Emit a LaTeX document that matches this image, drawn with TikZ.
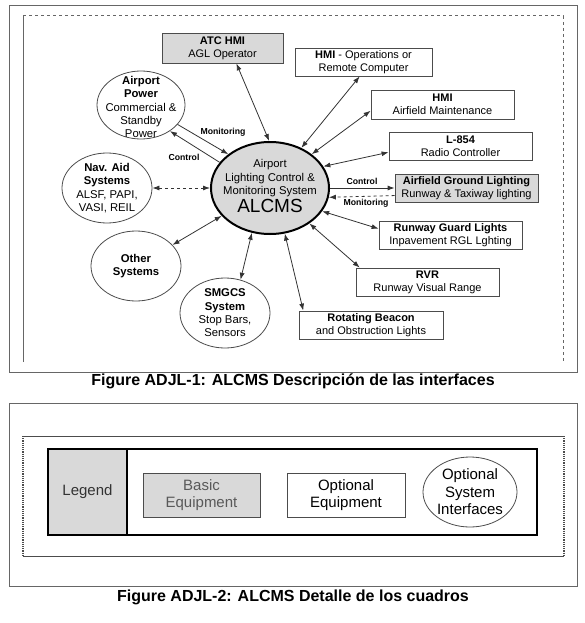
\documentclass[tikz,border=0pt]{standalone}
\usepackage{fontspec}
\setmainfont{Liberation Sans}
\usetikzlibrary{arrows.meta,shapes.geometric}

\begin{document}
\begin{tikzpicture}[x=1pt, y=-1pt,
  every node/.style={font=\fontsize{11}{13}\selectfont, text=black},
  box/.style={draw=black!70, line width=0.8pt, rectangle, inner sep=1pt,
    align=center, minimum width=143, minimum height=28},
  graybox/.style={box, fill=black!15},
  sysell/.style={draw=black!70, line width=0.8pt, ellipse, inner sep=0pt,
    minimum width=90, minimum height=70},
  systext/.style={align=center, inner sep=0pt, font=\fontsize{11.3}{13.3}\selectfont},
  core/.style={draw=black, line width=2pt, ellipse, fill=black!15,
    inner sep=0pt, minimum width=118, minimum height=92},
  link/.style={{Latex[length=7pt,width=5pt]}-{Latex[length=7pt,width=5pt]},
    line width=0.8pt, black!80},
  onehead/.style={-{Latex[length=7pt,width=5pt]}, line width=0.8pt, black!80},
  tag/.style={font=\fontsize{8.7}{10}\selectfont\bfseries, inner sep=1pt},
  caption/.style={font=\fontsize{16}{18}\selectfont\bfseries},
  frame/.style={draw=black!60, line width=0.8pt},
  legendtext/.style={font=\fontsize{15}{17.5}\selectfont, align=center}]

  \useasboundingbox (0,0) rectangle (585,623);

  %% Figure ADJL-1: interfaces
  \draw[frame] (9,5) rectangle (577,372);
  \draw[black!60, line width=0.8pt] (23,362) -- (23,16);
  \draw[black!60, line width=1pt, dashed] (23,16) -- (563,16) -- (563,362);

  % Central system
  \node[core] (alcms) at (270,188) {};
  \node[systext] (alcmstext) at (270,186) {Airport\\Lighting Control \&\\Monitoring System\\[1pt]
    {\fontsize{19}{19}\selectfont ALCMS}};

  % Equipment boxes
  \node[graybox, minimum width=121, minimum height=30] (atc) at (222.5,48)
    {\textbf{ATC HMI}\\AGL Operator};
  \node[box, minimum width=137] (hmiops) at (363.5,62)
    {\textbf{HMI} - Operations or\\Remote Computer};
  \node[box, minimum height=29] (hmimaint) at (442.5,104.5)
    {\textbf{HMI}\\Airfield Maintenance};
  \node[box] (radio) at (460.5,146) {\textbf{L-854}\\Radio Controller};
  \node[graybox] (agl) at (466.5,188)
    {\textbf{Airfield Ground Lighting}\\Runway \& Taxiway lighting};
  \node[box] (rgl) at (450.5,235)
    {\textbf{Runway Guard Lights}\\Inpavement RGL Lghting};
  \node[box] (rvr) at (427.5,282) {\textbf{RVR}\\Runway Visual Range};
  \node[box, minimum width=144] (beacon) at (371,325)
    {\textbf{Rotating Beacon}\\and Obstruction Lights};

  % System ellipses
  \node[sysell, minimum width=88, minimum height=68] (power) at (141,105) {};
  \node[systext] (powertext) at (141,107)
    {\textbf{Airport}\\\textbf{Power}\\Commercial \&\\Standby\\Power};
  \node[sysell] (navaid) at (107,188) {};
  \node[systext] (navaidtext) at (navaid)
    {\textbf{Nav. Aid}\\\textbf{Systems}\\ALSF, PAPI,\\VASI, REIL};
  \node[sysell] (other) at (136,266) {};
  \node[systext] (othertext) at (other) {\textbf{Other}\\\textbf{Systems}};
  \node[sysell] (smgcs) at (225,313) {};
  \node[systext] (smgcstext) at (smgcs)
    {\textbf{SMGCS}\\\textbf{System}\\Stop Bars,\\Sensors};

  % Connectors
  \draw[link] (atc.-48) -- (alcms.91);
  \draw[link] (hmiops.-105) -- (alcms.52);
  \draw[link] (hmimaint.185) -- (alcms.39);
  \draw[link] (radio.185) -- (alcms.22);
  \draw[link] (rgl.175) -- (alcms.-24);
  \draw[link] (rvr.168) -- (alcms.-42);
  \draw[link] (beacon.168) -- (alcms.-72);
  \draw[link] (smgcs.65) -- (alcms.-112);
  \draw[link] (other.30) -- (alcms.-150);
  \draw[link, dashed] (navaid.east) -- (alcms.west);

  % Control / monitoring pairs
  \draw[onehead] (power.-28) -- (alcms.141);
  \draw[onehead] (alcms.153) -- (power.-42);
  \node[tag] (pwrmon) at (223,132) {Monitoring};
  \node[tag] (pwrctl) at (184,157) {Control};

  \draw[onehead] (alcms.east) -- (agl.west);
  \draw[onehead, dashed] (agl.186) -- (alcms.-9);
  \node[tag] (aglctl) at (362,181) {Control};
  \node[tag] (aglmon) at (366,203) {Monitoring};

  \node[caption] (cap1) at (293,381)
    {Figure ADJL-1: ALCMS Descripción de las interfaces};

  %% Figure ADJL-2: legend
  \draw[frame] (9,403) rectangle (577,586);
  \draw[black!70, line width=0.8pt] (23,436) -- (564,436) (23,556) -- (564,556);
  \draw[black!70, line width=1.2pt, densely dotted] (23,436) -- (23,556)
    (564,436) -- (564,556);

  \node[legendtext, fill=black!15, inner sep=0pt, minimum width=79,
    minimum height=86, text=black!80] (legend) at (87.5,492) {Legend};
  \draw[line width=2.5pt] (48,449) rectangle (537,535);
  \draw[line width=2.5pt] (legend.north east) -- (legend.south east);

  \node[graybox, legendtext, text=black!65, minimum width=117,
    minimum height=44] (basic) at (201.5,495) {Basic\\Equipment};
  \node[box, legendtext, minimum width=118,
    minimum height=44] (optional) at (346,495) {Optional\\Equipment};
  \node[sysell, minimum width=94, minimum height=70] (optsys) at (470,492) {};
  \node[systext, legendtext] (optsystext) at (optsys)
    {Optional\\System\\Interfaces};

  \node[caption] (cap2) at (293,597) {Figure ADJL-2: ALCMS Detalle de los cuadros};

\end{tikzpicture}
\end{document}
